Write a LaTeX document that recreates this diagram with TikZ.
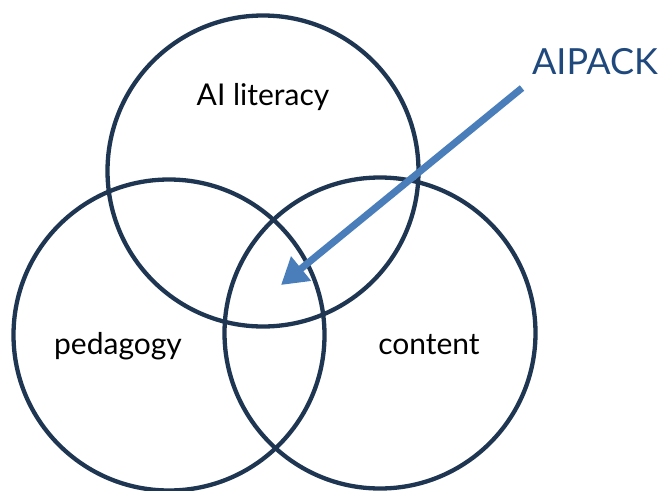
\documentclass[tikz,border=0pt]{standalone}
\usepackage{fontspec}
\setmainfont{Lato}
\usetikzlibrary{arrows.meta}
\definecolor{ringcol}{HTML}{1F3652}
\definecolor{arrowcol}{HTML}{4A7EBB}
\definecolor{labelcol}{HTML}{1F497D}
\begin{document}
\begin{tikzpicture}[x=1pt,y=-1pt,
  ring/.style={circle,draw=ringcol,line width=4.3pt,minimum size=311pt,inner sep=0pt},
  word/.style={font=\fontsize{30}{34}\selectfont}]
\useasboundingbox (0,0) rectangle (658,490);
\node [ring] (lit) at (263,171) {};
\node [ring] (ped) at (169,335) {};
\node [ring] (con) at (380,333) {};
\node [word] (litlabel) at (263,97) {AI literacy};
\node [word] (pedlabel) at (118,346) {pedagogy};
\node [word] (conlabel) at (429,345) {content};
\node [font=\fontsize{36}{40}\selectfont,color=labelcol] (pack) at (595,62) {AIPACK};
\coordinate (tail) at (522,88);
\coordinate (tip) at (281,285);
\draw [arrowcol,line width=7pt,-{Triangle[length=26pt,width=30pt]}] (tail) -- (tip);
\end{tikzpicture}
\end{document}
